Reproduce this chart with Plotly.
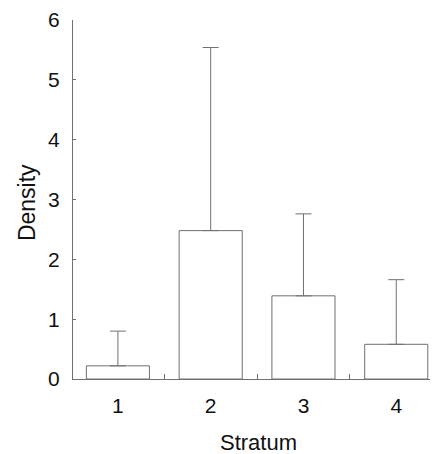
import plotly.graph_objects as go

strata = [1, 2, 3, 4]
density = [0.22, 2.48, 1.39, 0.58]
upper_err = [0.58, 3.06, 1.37, 1.08]  # upper error bar lengths (top - mean)
tick_labels = ["1", "2", "3", "4"]
y_ticks = [0, 1, 2, 3, 4, 5, 6]

line_col = "#707070"
font = dict(family="Liberation Sans, Arial, sans-serif", size=21, color="#111")

fig = go.Figure()
fig.add_trace(go.Bar(
    x=strata, y=density, width=0.68,
    marker=dict(color="white", line=dict(color=line_col, width=1)),
    error_y=dict(type="data", symmetric=False, array=upper_err,
                 arrayminus=[0, 0, 0, 0], color=line_col, thickness=1, width=8),
    showlegend=False,
))

fig.update_layout(
    width=430, height=446,
    margin=dict(l=65, r=0, t=12, b=75),
    paper_bgcolor="white", plot_bgcolor="white",
    font=font,
    xaxis=dict(range=[0.516, 4.45], tickvals=strata, ticktext=tick_labels,
               showgrid=False, zeroline=False, showline=True, linecolor=line_col,
               linewidth=1, ticks="", automargin=False, ticklabelstandoff=8,
               minor=dict(tick0=0.5, dtick=1, ticks="inside", ticklen=5,
                          tickcolor=line_col, showgrid=False)),
    yaxis=dict(range=[0, 6], tickvals=y_ticks, showgrid=False,
               zeroline=False, showline=True, linecolor=line_col, linewidth=1,
               ticks="inside", ticklen=3, tickcolor=line_col, automargin=False,
               ticklabelstandoff=8),
    annotations=[
        dict(text="Density", xref="paper", yref="paper", x=-0.126, y=0.49,
             xanchor="center", yanchor="middle", textangle=-90, showarrow=False,
             font=dict(size=23)),
        dict(text="Stratum", xref="paper", yref="paper", x=0.507, y=-0.178,
             xanchor="center", yanchor="middle", showarrow=False,
             font=dict(size=22)),
    ],
)

fig.write_html("out.html")
